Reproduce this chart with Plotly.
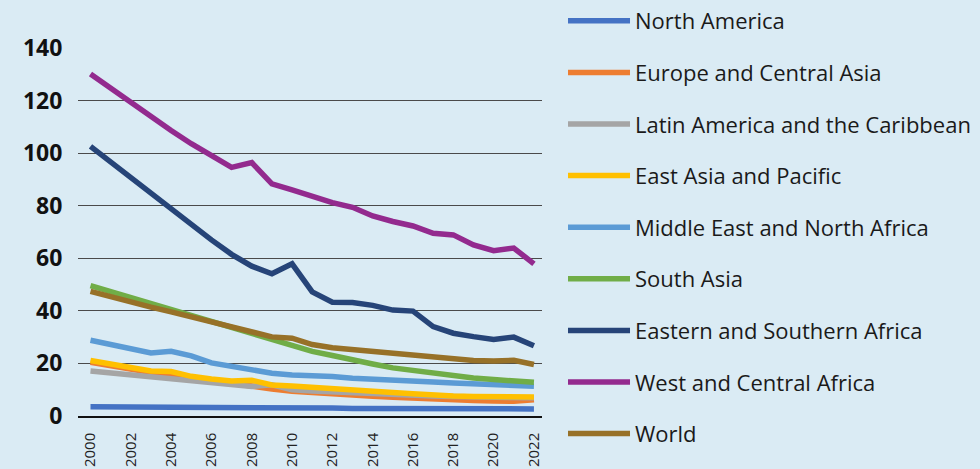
import plotly.graph_objects as go

years = list(range(2000, 2023))

series_names = [
    "North America",
    "Europe and Central Asia",
    "Latin America and the Caribbean",
    "East Asia and Pacific",
    "Middle East and North Africa",
    "South Asia",
    "Eastern and Southern Africa",
    "West and Central Africa",
    "World",
]

north_america = [3.5, 3.5, 3.4, 3.4, 3.4, 3.3, 3.3, 3.3, 3.2, 3.2, 3.1, 3.0, 3.0,
                 2.9, 2.9, 2.9, 2.8, 2.8, 2.8, 2.7, 2.7, 2.7, 2.7]
europe_central_asia = [20.4, 19.0, 17.7, 16.5, 15.8, 14.6, 13.6, 12.5, 11.4, 10.3, 9.4, 8.8,
                       8.3, 7.9, 7.5, 7.1, 6.7, 6.4, 6.1, 5.9, 5.7, 5.6, 6.2]
latin_america = [17.1, 16.3, 15.6, 14.9, 14.2, 13.4, 12.7, 12.0, 11.2, 11.9, 10.0, 9.5,
                 9.1, 8.7, 8.4, 8.1, 7.8, 7.6, 7.4, 7.2, 7.0, 6.9, 6.9]
east_asia_pacific = [21.1, 19.9, 18.6, 17.1, 16.9, 15.1, 14.1, 13.3, 13.6, 11.8, 11.4, 10.8,
                     10.3, 9.8, 9.3, 8.9, 8.5, 7.9, 7.6, 7.4, 7.3, 7.2, 7.2]
middle_east_na = [28.8, 27.2, 25.6, 24.0, 24.6, 22.9, 20.2, 18.8, 17.3, 16.3, 15.6, 15.5,
                  15.0, 14.4, 13.9, 13.6, 13.2, 12.9, 12.6, 12.2, 11.8, 11.6, 11.3]
south_asia = [49.6, 47.3, 45.0, 42.7, 40.5, 38.2, 35.9, 33.5, 31.3, 29.0, 26.8, 24.6,
              23.0, 21.2, 19.8, 18.3, 17.3, 16.1, 15.4, 14.5, 13.9, 13.4, 12.8]
eastern_southern_africa = [102.6, 96.6, 90.7, 84.8, 78.9, 73.0, 67.0, 61.5, 57.0, 54.1, 57.9,
                           47.2, 43.3, 43.2, 42.1, 40.3, 39.9, 34.0, 31.5, 30.2, 29.1, 30.0, 26.7]
west_central_africa = [130.1, 124.6, 119.2, 113.8, 108.6, 103.6, 99.0, 94.6, 96.4, 88.3, 86.0,
                       83.5, 81.2, 79.4, 76.1, 74.0, 72.3, 69.5, 68.9, 65.1, 62.9, 63.9, 57.9]
world = [47.4, 45.3, 43.3, 41.4, 39.6, 37.7, 35.9, 33.9, 32.0, 30.1, 29.6, 27.2,
         26.0, 25.3, 24.7, 23.9, 23.3, 22.1, 21.5, 21.1, 20.9, 21.2, 19.6]

series_values = [north_america, europe_central_asia, latin_america, east_asia_pacific,
                 middle_east_na, south_asia, eastern_southern_africa,
                 west_central_africa, world]

colors = ["#4472C4", "#ED7D31", "#A5A5A5", "#FFC000", "#5B9BD5",
          "#70AD47", "#264478", "#932A8E", "#977128"]

y_ticks = [0, 20, 40, 60, 80, 100, 120, 140]
x_ticks = list(range(2000, 2023, 2))

fig = go.Figure()
for i, (name, vals, col) in enumerate(zip(series_names, series_values, colors)):
    fig.add_trace(go.Scatter(
        x=years, y=vals, name=name, mode="lines",
        line=dict(color=col, width=5.5),
        legendgroup=f"g{i}",
    ))

fig.update_layout(
    width=980, height=469,
    margin=dict(l=78, r=438, t=48, b=53, autoexpand=False),
    paper_bgcolor="#daebf4",
    plot_bgcolor="rgba(0,0,0,0)",
    font=dict(family="Open Sans", color="#1a1a1a"),
    showlegend=True,
    legend=dict(
        xref="container", yref="container",
        x=0.5745, y=1.0, xanchor="left", yanchor="top",
        font=dict(family="Open Sans", size=22, color="#1a1a1a"),
        bgcolor="rgba(0,0,0,0)",
        tracegroupgap=20,
        traceorder="grouped",
        itemwidth=62,
        maxheight=469,
    ),
)

fig.update_xaxes(
    range=[1999.38, 2022.4],
    tickvals=x_ticks, ticktext=[str(t) for t in x_ticks],
    tickangle=-90,
    tickfont=dict(family="Open Sans", size=15, color="#222222"),
    showgrid=False, zeroline=False,
    showline=True, linecolor="#111111", linewidth=1.5,
    ticks="outside", ticklen=9, tickcolor="rgba(0,0,0,0)",
    automargin=False,
)
fig.update_yaxes(
    range=[0, 140],
    tickvals=y_ticks,
    tickfont=dict(family="Open Sans", size=23, color="#111111", weight="bold"),
    showgrid=True, gridcolor="#4a4a4a", gridwidth=1,
    zeroline=False, showline=False,
    ticks="outside", ticklen=10, tickcolor="rgba(0,0,0,0)",
    automargin=False,
)

fig.write_html(
    "out.html",
    config={"displayModeBar": False},
    post_script="document.body.style.margin='0';document.body.style.overflow='hidden';",
)
